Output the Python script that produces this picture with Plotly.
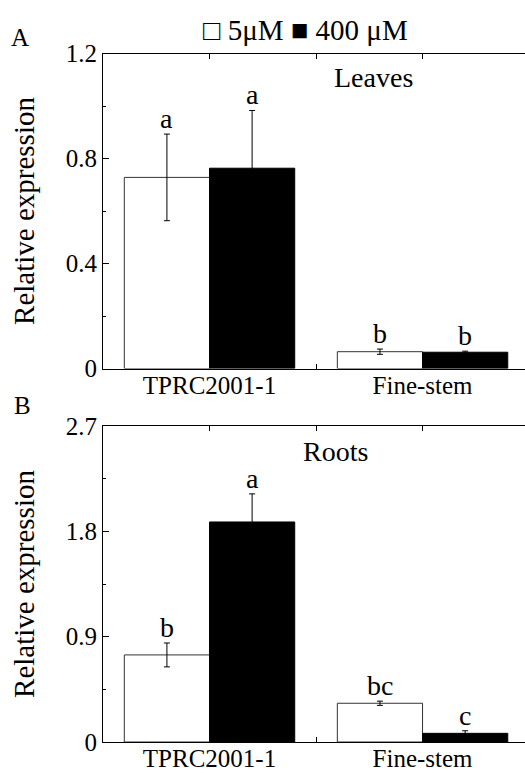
import plotly.graph_objects as go

categories = ["TPRC2001-1", "Fine-stem"]
series_names = ["5μM", "400 μM"]

leaves_low = [0.728, 0.064]
leaves_low_err = [0.165, 0.010]
leaves_high = [0.763, 0.062]
leaves_high_err = [0.220, 0.004]
leaves_low_letters = ["a", "b"]
leaves_high_letters = ["a", "b"]

roots_low = [0.744, 0.331]
roots_low_err = [0.102, 0.018]
roots_high = [1.880, 0.074]
roots_high_err = [0.240, 0.022]
roots_low_letters = ["b", "bc"]
roots_high_letters = ["a", "c"]

yticks_a = [0, 0.4, 0.8, 1.2]
yticks_b = [0, 0.9, 1.8, 2.7]

FONT = "Liberation Serif"
FS_TICK = 25
FS = 28
W, H = 525, 774
xpos = [0, 1]

fig = go.Figure()

def add_panel(low, low_err, high, high_err, xa, ya):
    fig.add_trace(go.Bar(
        x=xpos, y=low, name=series_names[0], xaxis=xa, yaxis=ya,
        marker=dict(color="white", line=dict(color="#333333", width=1)),
        error_y=dict(type="data", array=low_err, color="black", thickness=1, width=3),
        showlegend=False))
    fig.add_trace(go.Bar(
        x=xpos, y=high, name=series_names[1], xaxis=xa, yaxis=ya,
        marker=dict(color="black", line=dict(color="black", width=1)),
        error_y=dict(type="data", array=high_err, color="black", thickness=1, width=3),
        showlegend=False))

add_panel(leaves_low, leaves_low_err, leaves_high, leaves_high_err, "x", "y")
add_panel(roots_low, roots_low_err, roots_high, roots_high_err, "x2", "y2")

xrange = [-0.5, 1.481]
xdom = [103 / W, 1.0]
dom_a = [1 - 368.5 / H, 1 - 53.5 / H]
dom_b = [1 - 742 / H, 1 - 426 / H]

def xaxis_bottom(anchor):
    return dict(domain=xdom, range=xrange, anchor=anchor, showline=True, linecolor="black",
                linewidth=1, tickvals=xpos, ticktext=categories, ticks="", showgrid=False,
                zeroline=False, tickfont=dict(family=FONT, size=FS_TICK, color="black"),
                automargin=False, ticklabelstandoff=-6,
                minor=dict(tickmode="array", tickvals=[0.5], ticks="inside", ticklen=5,
                           tickcolor="black", showgrid=False))

def xaxis_top(over, anchor):
    return dict(domain=xdom, range=xrange, anchor=anchor, overlaying=over, side="top",
                showline=True, linecolor="black", linewidth=1, tickvals=[0, 0.5, 1],
                ticks="inside", ticklen=5, tickcolor="black", showticklabels=False,
                showgrid=False, zeroline=False, automargin=False)

def yaxis(dom, anchor, tickvals, dminor):
    return dict(domain=dom, range=[0, tickvals[-1]], anchor=anchor, showline=True,
                linecolor="black", linewidth=1, tickvals=tickvals,
                ticktext=[("0" if v == 0 else f"{v:.1f}") for v in tickvals],
                ticks="inside", ticklen=6, tickcolor="black", showgrid=False, zeroline=False,
                tickfont=dict(family=FONT, size=FS_TICK, color="black"), automargin=False,
                title=dict(text="Relative expression", font=dict(family=FONT, size=29, color="black"),
                           standoff=22),
                minor=dict(dtick=dminor, ticks="inside", ticklen=3, tickcolor="black", showgrid=False))

fig.update_layout(
    width=W, height=H,
    margin=dict(l=0, r=0, t=0, b=0, autoexpand=False),
    paper_bgcolor="white", plot_bgcolor="white",
    barmode="group", bargap=0.2, bargroupgap=0,
    font=dict(family=FONT, size=FS, color="black"),
    showlegend=False,
    xaxis=xaxis_bottom("y"),
    xaxis2=xaxis_bottom("y2"),
    xaxis3=xaxis_top("x", "y"),
    xaxis4=xaxis_top("x2", "y2"),
    yaxis=yaxis(dom_a, "x", yticks_a, 0.2),
    yaxis2=yaxis(dom_b, "x2", yticks_b, 0.45),
)

fig.add_trace(go.Scatter(x=[None], y=[None], xaxis="x3", yaxis="y", showlegend=False, hoverinfo="skip"))
fig.add_trace(go.Scatter(x=[None], y=[None], xaxis="x4", yaxis="y2", showlegend=False, hoverinfo="skip"))

def letters(xa, ya, means, errs, labels, offset):
    for i, (m, e, t) in enumerate(zip(means, errs, labels)):
        fig.add_annotation(x=xpos[i] + offset, y=m + e, xref=xa, yref=ya, text=t,
                           showarrow=False, yanchor="bottom", yshift=-2,
                           font=dict(family=FONT, size=FS, color="black"))

letters("x", "y", leaves_low, leaves_low_err, leaves_low_letters, -0.2)
letters("x", "y", leaves_high, leaves_high_err, leaves_high_letters, 0.2)
letters("x2", "y2", roots_low, roots_low_err, roots_low_letters, -0.2)
letters("x2", "y2", roots_high, roots_high_err, roots_high_letters, 0.2)

fig.add_annotation(x=0.771, y=0.925, xref="x", yref="y domain", text="Leaves", showarrow=False,
                   yanchor="middle", font=dict(family=FONT, size=FS, color="black"))
fig.add_annotation(x=0.593, y=0.918, xref="x2", yref="y2 domain", text="Roots", showarrow=False,
                   yanchor="middle", font=dict(family=FONT, size=FS, color="black"))

# legend as text line (open square = 5 µM, filled square = 400 µM)
legend_text = "□ " + series_names[0] + " ■ " + series_names[1]
fig.add_annotation(x=305 / W, y=1 - 30 / H, xref="paper", yref="paper", text=legend_text,
                   showarrow=False, xanchor="center", yanchor="middle",
                   font=dict(family=FONT, size=29, color="black"))

fig.add_annotation(x=20 / W, y=1 - 37 / H, xref="paper", yref="paper", text="A", showarrow=False,
                   xanchor="center", yanchor="middle", font=dict(family=FONT, size=FS_TICK, color="black"))
fig.add_annotation(x=22 / W, y=1 - 405 / H, xref="paper", yref="paper", text="B", showarrow=False,
                   xanchor="center", yanchor="middle", font=dict(family=FONT, size=FS_TICK, color="black"))

fig.write_html("out.html")
